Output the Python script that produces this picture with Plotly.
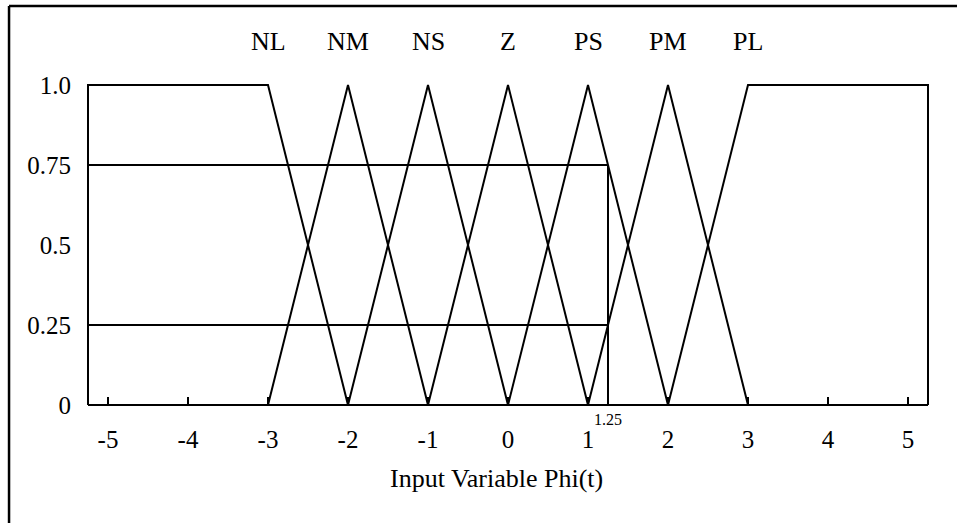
import plotly.graph_objects as go

# Fuzzy sets of the input variable Phi(t)
set_names = ["NL", "NM", "NS", "Z", "PS", "PM", "PL"]
set_peaks = [-3, -2, -1, 0, 1, 2, 3]
universe = [-5.25, 5.25]

# Shoulder sets at both ends
nl_x = [-5.25, -5.25, -3, -2]
nl_y = [0, 1, 1, 0]
pl_x = [2, 3, 5.25, 5.25]
pl_y = [0, 1, 1, 0]

# Triangular sets (left foot, peak, right foot)
tri_names = ["NM", "NS", "Z", "PS", "PM"]
tri_x = [[-3, -2, -1], [-2, -1, 0], [-1, 0, 1], [0, 1, 2], [1, 2, 3]]
tri_y = [0, 1, 0]

# Crisp input and its membership degrees
phi_input = 1.25
phi_degrees = [0.75, 0.25]

x_ticks = [-5, -4, -3, -2, -1, 0, 1, 2, 3, 4, 5]
y_ticks = [0, 0.25, 0.5, 0.75, 1.0]
y_tick_text = ["0", "0.25", "0.5", "0.75", "1.0"]

FONT = "Liberation Serif"
LINE = dict(color="black", width=2)

# Plot-area geometry in pixels (used to place paper-referenced text)
M_L, M_R, M_T, M_B = 84, 25, 69, 110
FIG_W, FIG_H = 957, 523
PLOT_H = FIG_H - M_T - M_B


def paper_y(py):
    """Convert a pixel row of the page into a paper fraction."""
    return (FIG_H - M_B - py) / PLOT_H


fig = go.Figure()

fig.add_trace(go.Scatter(x=nl_x, y=nl_y, mode="lines", line=LINE, name="NL"))
for name, xs in zip(tri_names, tri_x):
    fig.add_trace(go.Scatter(x=xs, y=tri_y, mode="lines", line=LINE, name=name))
fig.add_trace(go.Scatter(x=pl_x, y=pl_y, mode="lines", line=LINE, name="PL"))

# Baseline of the universe of discourse
fig.add_trace(go.Scatter(x=universe, y=[0, 0], mode="lines", line=LINE, name="axis"))

# Degree lines for the crisp input
for mu in phi_degrees:
    fig.add_trace(go.Scatter(x=[universe[0], phi_input], y=[mu, mu],
                             mode="lines", line=LINE, name=f"mu={mu}"))
fig.add_trace(go.Scatter(x=[phi_input, phi_input], y=[0, max(phi_degrees)],
                         mode="lines", line=LINE, name="phi"))

# Set names above the peaks
for name, c in zip(set_names, set_peaks):
    fig.add_annotation(x=c, y=paper_y(41), xref="x", yref="paper", text=name,
                       showarrow=False, font=dict(family=FONT, size=26, color="black"),
                       xanchor="center", yanchor="middle")

# Crisp input value below the axis
fig.add_annotation(x=phi_input, y=paper_y(419), xref="x", yref="paper",
                   text=f"{phi_input:g}", showarrow=False,
                   font=dict(family=FONT, size=16, color="black"),
                   xanchor="center", yanchor="middle")

# Axis title
fig.add_annotation(x=-0.14, y=paper_y(478), xref="x", yref="paper",
                   text="Input Variable Phi(t)", showarrow=False,
                   font=dict(family=FONT, size=26, color="black"),
                   xanchor="center", yanchor="middle")

# Outer frame (top and left edges)
frame = dict(color="black", width=2.5)
fig.add_shape(type="line", xref="paper", yref="paper",
              x0=-0.0884, x1=-0.0884, y0=paper_y(6), y1=paper_y(530), line=frame)
fig.add_shape(type="line", xref="paper", yref="paper",
              x0=-0.0884, x1=1.04, y0=paper_y(6), y1=paper_y(6), line=frame)

y_min, y_max = -0.025, 1.05

fig.update_layout(
    width=FIG_W, height=FIG_H,
    margin=dict(l=M_L, r=M_R, t=M_T, b=M_B),
    paper_bgcolor="white", plot_bgcolor="white",
    showlegend=False,
    font=dict(family=FONT, size=25, color="black"),
    xaxis=dict(
        range=[-5.3, 5.3],
        anchor="free", position=(0 - y_min) / (y_max - y_min),
        showline=False, showgrid=False, zeroline=False,
        tickmode="array", tickvals=x_ticks,
        ticktext=[f"{v}" for v in x_ticks],
        ticks="inside", ticklen=8, tickwidth=2, tickcolor="black",
        ticklabelstandoff=17,
        tickfont=dict(family=FONT, size=25, color="black"),
    ),
    yaxis=dict(
        range=[y_min, y_max],
        showline=False, showgrid=False, zeroline=False,
        tickmode="array", tickvals=y_ticks, ticktext=y_tick_text,
        ticks="", ticklabelstandoff=12,
        tickfont=dict(family=FONT, size=25, color="black"),
    ),
)

fig.write_html("out.html")
